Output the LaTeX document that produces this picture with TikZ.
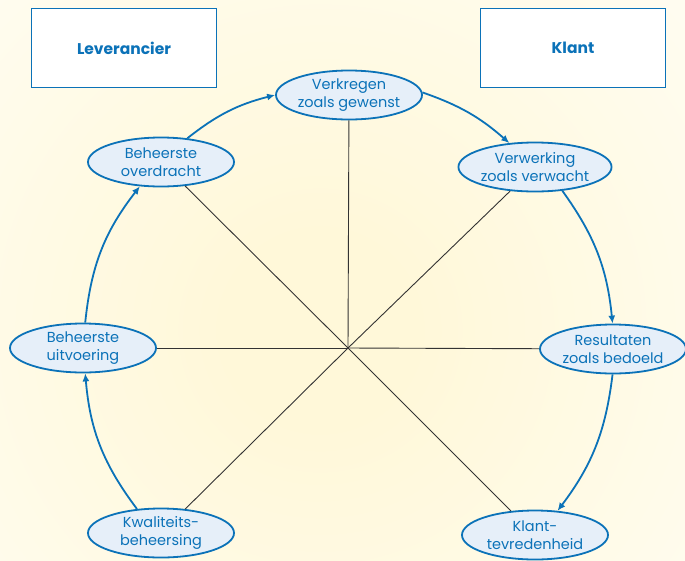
\documentclass[tikz,border=0pt]{standalone}
\usepackage{fontspec}
\setmainfont{Poppins}
\usetikzlibrary{shapes.geometric,arrows.meta}
\definecolor{cycleblue}{HTML}{0B72B8}
\definecolor{cyclefill}{HTML}{E6EFF9}
\definecolor{spoke}{HTML}{333333}
\definecolor{glowin}{HTML}{FFF8D9}
\definecolor{glowout}{HTML}{FFFEFA}
% soft yellow glow behind the cycle
\pgfdeclareradialshading{glow}{\pgfpoint{0bp}{0bp}}{color(0bp)=(glowin); color(4bp)=(glowin); color(27bp)=(glowout); color(50bp)=(glowout)}
\tikzset{
  stage/.style={ellipse, draw=cycleblue, line width=1.8pt, fill=cyclefill,
    minimum width=146pt, minimum height=49pt, inner sep=0pt, align=center,
    text=cycleblue, font=\fontsize{14.5}{18.5}\selectfont},
  party/.style={rectangle, draw=cycleblue, line width=1.8pt, fill=white,
    minimum width=185pt, minimum height=79pt, text=cycleblue,
    font=\fontsize{15.5}{18}\selectfont\bfseries},
  flow/.style={draw=cycleblue, line width=1.8pt, -{Latex[length=8pt,width=7pt]}},
  spokeline/.style={draw=spoke, line width=0.9pt}
}
\begin{document}
\begin{tikzpicture}[x=1pt,y=-1pt]
\fill[glowout] (0,0) rectangle (685,560);
\begin{scope}
  \clip (0,0) rectangle (685,560);
  \shade[shading=glow] (320,330) circle (600);
\end{scope}
\useasboundingbox (0,0) rectangle (685,560);

% the two parties
\node[party] (lev) at (124,48) {Leverancier};
\node[party] (kla) at (573,48) {Klant};

% stages of the cycle
\node[stage] (verk) at (349,95)  {Verkregen\\zoals gewenst};
\node[stage] (verw) at (535,167) {Verwerking\\zoals verwacht};
\node[stage] (res)  at (613,349) {Resultaten\\zoals bedoeld};
\node[stage] (tev)  at (535,535) {Klant-\\tevredenheid};
\node[stage] (kwal) at (161,533) {Kwaliteits-\\beheersing};
\node[stage] (uitv) at (83,348)  {Beheerste\\uitvoering};
\node[stage] (over) at (161,162) {Beheerste\\overdracht};
\coordinate (hub) at (348,348);

% spokes from the hub
\foreach \n in {verk,verw,res,tev,kwal,uitv,over}
  \draw[spokeline] (hub) -- (\n);

% flow around the cycle
\draw[flow] (over.42)  to[bend left=12] (verk.180);
\draw[flow] (verk.2)   to[bend left=11] (verw.137);
\draw[flow] (verw.-41) to[bend left=15] (res.91);
\draw[flow] (res.-91)  to[bend left=15] (tev.47);
\draw[flow] (kwal.135) to[bend left=16] (uitv.-85);
\draw[flow] (uitv.85)  to[bend left=16] (over.-131);
\end{tikzpicture}
\end{document}
